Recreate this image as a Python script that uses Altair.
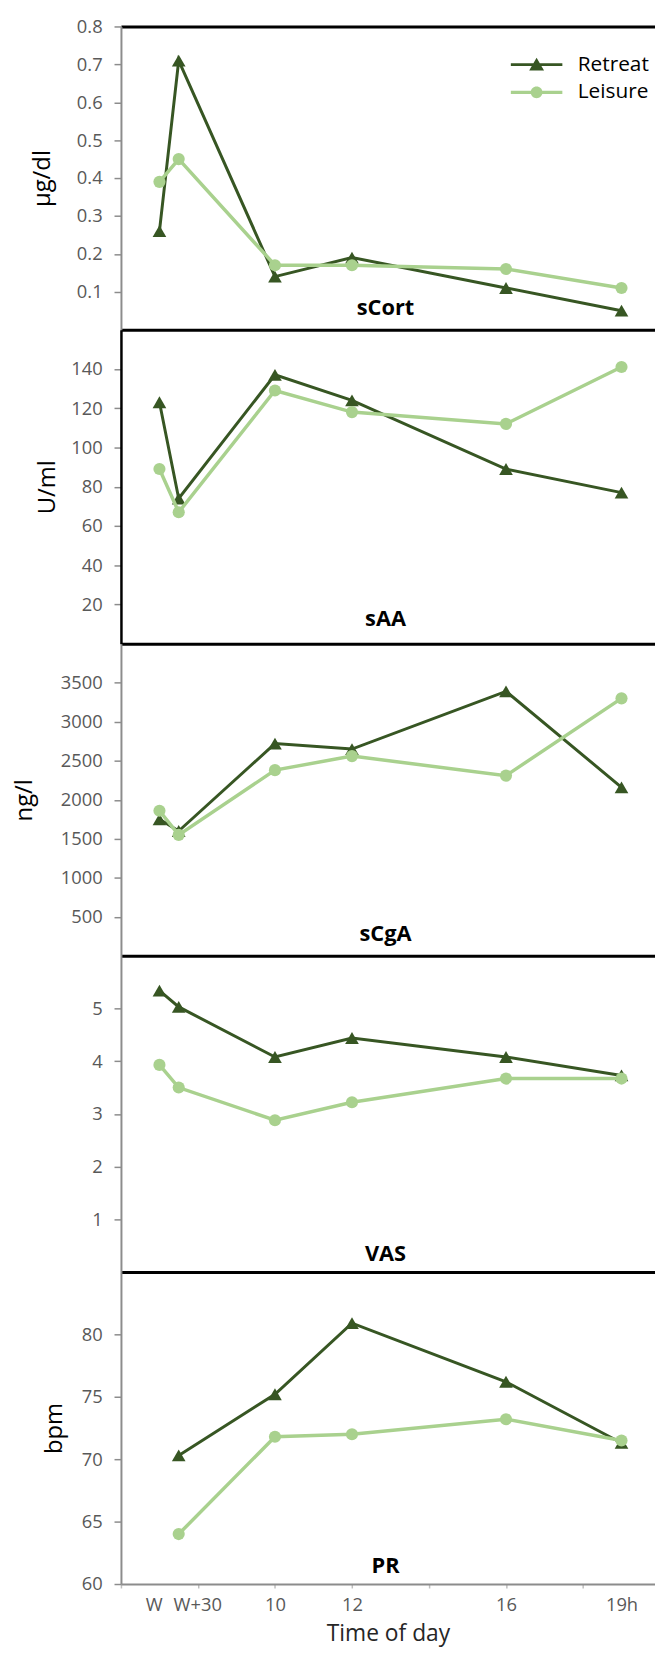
import altair as alt
import pandas as pd

# ---------------- data ----------------
series_names = ["Retreat", "Leisure"]
series_colors = ["#375623", "#A9D18E"]

# time of day (hours); W and W+30 placed at their clock positions
time_pos = [7.0, 7.5, 10, 12, 16, 19]

panel_names = ["sCort", "sAA", "sCgA", "VAS", "PR"]
unit_titles = ["μg/dl", "U/ml", "ng/l", "", "bpm"]

scort_retreat = [0.26, 0.71, 0.14, 0.19, 0.11, 0.05]
scort_leisure = [0.39, 0.45, 0.17, 0.17, 0.16, 0.11]
saa_retreat = [123, 74, 137, 124, 89, 77]
saa_leisure = [89, 67, 129, 118, 112, 141]
scga_retreat = [1750, 1600, 2720, 2650, 3390, 2160]
scga_leisure = [1860, 1550, 2380, 2560, 2310, 3300]
vas_retreat = [5.34, 5.03, 4.08, 4.44, 4.08, 3.73]
vas_leisure = [3.93, 3.50, 2.88, 3.22, 3.67, 3.67]
pr_retreat = [None, 70.3, 75.2, 80.9, 76.2, 71.3]
pr_leisure = [None, 64.0, 71.8, 72.0, 73.2, 71.5]

y_domains = [[0, 0.8], [0, 160], [0, 4000], [0, 6], [60, 85]]
y_ticks = [
    [0.1, 0.2, 0.3, 0.4, 0.5, 0.6, 0.7, 0.8],
    [20, 40, 60, 80, 100, 120, 140],
    [500, 1000, 1500, 2000, 2500, 3000, 3500],
    [1, 2, 3, 4, 5],
    [60, 65, 70, 75, 80],
]
y_formats = [".1f", "d", "d", "d", "d"]

x_domain = [6, 19.87]
x_tick_hours = [6, 8, 10, 12, 14, 16, 18]
x_label_pos = [6.85, 7.98, 10, 12, 16, 19]
x_label_text = ["W", "W+30", "10", "12", "16", "19h"]

# ---------------- layout / style ----------------
plot_width = 539
panel_heights = [306, 317, 315, 319, 315]
label_offsets = [15, 18, 15, 11, 11]
title_pads = [22, 11, 24, 0, 15]
left_axis_colors = ["#8c8c8c", "#000000", "#8c8c8c", "#8c8c8c", "#8c8c8c"]
left_axis_widths = [2, 2.5, 2, 2, 2]
FONT = "Open Sans"
TICK_FS = 18.5

# legend glyphs: line with triangle / line with circle
legend_paths = [
    "M-5.2,-0.28H5.2V0.28H-5.2Z M-1.5,1.2L0,-1.4L1.5,1.2Z",
    "M-5.2,-0.34H5.2V0.34H-5.2Z M1.2,0A1.2,1.2,0,1,1,-1.2,0A1.2,1.2,0,1,1,1.2,0Z",
]

all_values = {
    "sCort": (scort_retreat, scort_leisure),
    "sAA": (saa_retreat, saa_leisure),
    "sCgA": (scga_retreat, scga_leisure),
    "VAS": (vas_retreat, vas_leisure),
    "PR": (pr_retreat, pr_leisure),
}

rows = []
for pname in panel_names:
    for sname, vals in zip(series_names, all_values[pname]):
        for t, v in zip(time_pos, vals):
            if v is not None:
                rows.append({"panel": pname, "series": sname, "t": t, "value": v})
df = pd.DataFrame(rows)

label_expr = " : ".join(
    f"datum.value == {p} ? '{txt}'" for p, txt in zip(x_label_pos, x_label_text)
) + " : ''"

xscale = alt.Scale(domain=x_domain, nice=False, zero=False)


def black_line_axis(orient):
    return alt.Axis(orient=orient, domainColor="#000000", domainWidth=3,
                    ticks=False, labels=False, title=None, grid=False,
                    minExtent=0, maxExtent=0)


def make_panel(i):
    name = panel_names[i]
    h = panel_heights[i]
    base = alt.Chart(df).transform_filter(alt.datum.panel == name)

    ykw = dict(values=y_ticks[i], format=y_formats[i], grid=False,
               domainColor=left_axis_colors[i], domainWidth=left_axis_widths[i],
               tickColor="#8c8c8c", tickSize=7, tickWidth=1.5,
               labelFont=FONT, labelFontSize=TICK_FS, labelColor="#595959",
               labelPadding=12)
    if unit_titles[i]:
        ykw.update(title=unit_titles[i], titleFont=FONT, titleFontSize=24,
                   titleFontWeight="normal", titleColor="#000000",
                   titlePadding=title_pads[i])
    else:
        ykw.update(title=None)
    yscale = alt.Scale(domain=y_domains[i], nice=False, zero=False)
    y_main = alt.Y("value:Q", scale=yscale, axis=alt.Axis(**ykw))

    last = i == len(panel_names) - 1
    if last:
        ax_a = alt.Axis(orient="bottom", values=x_label_pos, labelExpr=label_expr,
                        domain=False, ticks=False, grid=False,
                        labelFont=FONT, labelFontSize=TICK_FS, labelColor="#595959",
                        labelPadding=12, labelOverlap=False, labelFlush=False,
                        title="Time of day", titleFont=FONT, titleFontSize=23,
                        titleFontWeight="normal", titleColor="#262626",
                        titlePadding=9)
        ax_b = alt.Axis(orient="bottom", values=x_tick_hours, labels=False,
                        ticks=True, tickSize=4, tickColor="#bfbfbf", tickWidth=1.5,
                        domainColor="#8c8c8c", domainWidth=2, title=None, grid=False)
    else:
        ax_a = black_line_axis("bottom")
        ax_b = black_line_axis("top") if i == 0 else None

    def xenc(ax):
        return alt.X("t:Q", scale=xscale, axis=ax)

    layers = []
    # Retreat line + triangles
    r = base.transform_filter(alt.datum.series == series_names[0])
    layers.append(r.mark_line(color=series_colors[0], strokeWidth=3).encode(
        x=xenc(ax_a), y=y_main))
    layers.append(r.mark_point(shape="triangle-up", filled=True, opacity=1,
                               color=series_colors[0], size=190).encode(
        x=xenc(ax_b), y=y_main))
    # Leisure line + circles
    l = base.transform_filter(alt.datum.series == series_names[1])
    layers.append(l.mark_line(color=series_colors[1], strokeWidth=3.5).encode(
        x=xenc(None), y=y_main))
    layers.append(l.mark_point(shape="circle", filled=True, opacity=1,
                               color=series_colors[1], size=150).encode(
        x=xenc(None), y=y_main))

    if i == 0:
        leg = alt.Legend(orient="none", legendX=409, legendY=28, title=None,
                         symbolSize=100, symbolStrokeWidth=0, symbolOpacity=1,
                         labelFont=FONT, labelFontSize=21, labelColor="#000000",
                         labelOffset=31, rowPadding=6)
        layers.append(base.mark_point(filled=True, opacity=0, size=10).encode(
            x=xenc(None), y=y_main,
            color=alt.Color("series:N", scale=alt.Scale(domain=series_names, range=series_colors), legend=leg),
            shape=alt.Shape("series:N", scale=alt.Scale(domain=series_names, range=legend_paths), legend=leg),
        ))

    txt = alt.Chart(pd.DataFrame({"label": [name]})).mark_text(
        font=FONT, fontSize=22, fontWeight="bold", color="#000000",
        align="center", baseline="alphabetic").encode(
        text="label:N", x=alt.value(267), y=alt.value(h - label_offsets[i]))
    layers.append(txt)

    return alt.layer(*layers).resolve_axis(x="independent").properties(
        width=plot_width, height=h)


panels = [make_panel(i) for i in range(len(panel_names))]

chart = alt.vconcat(*panels, spacing=0, bounds="flush").resolve_scale(
    color="independent", shape="independent"
).properties(
    padding={"left": 4, "top": 2, "right": 0, "bottom": 0}
).configure_view(stroke=None)

chart.save("out.html", embed_options={"renderer": "svg", "actions": False})
